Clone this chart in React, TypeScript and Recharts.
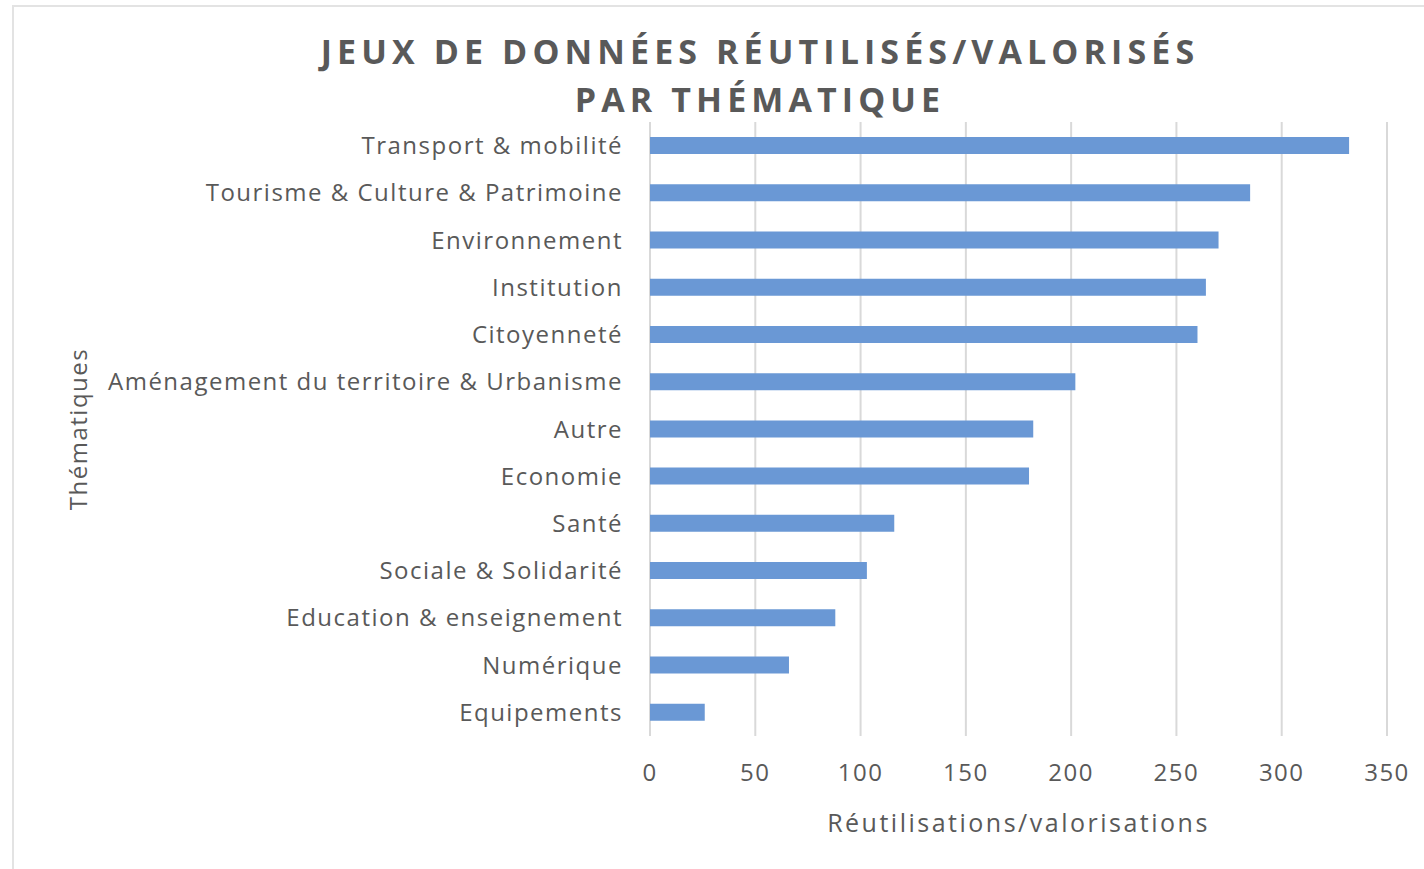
import React from 'react';
import { BarChart, Bar, XAxis, YAxis, CartesianGrid, Label } from 'recharts';

const categories = [
  'Transport & mobilité',
  'Tourisme & Culture & Patrimoine',
  'Environnement',
  'Institution',
  'Citoyenneté',
  'Aménagement du territoire & Urbanisme',
  'Autre',
  'Economie',
  'Santé',
  'Sociale & Solidarité',
  'Education & enseignement',
  'Numérique',
  'Equipements',
];
const values = [332, 285, 270, 264, 260, 202, 182, 180, 116, 103, 88, 66, 26];
const xTicks = [0, 50, 100, 150, 200, 250, 300, 350];
const titleLines = ['JEUX DE DONNÉES RÉUTILISÉS/VALORISÉS', 'PAR THÉMATIQUE'];

const data = categories.map((c, i) => ({ name: c, value: values[i] }));

const TEXT = '#595959';
const FONT = '"Open Sans", sans-serif';

export default function App() {
  return (
    <div style={{ position: 'absolute', left: 0, top: 0, width: 1424, height: 869, background: '#fff', overflow: 'hidden' }}>
      <div style={{ position: 'absolute', left: 12, top: 5, width: 1420, height: 870, border: '2px solid #e3e3e3', boxSizing: 'border-box' }} />
      <div style={{ position: 'absolute', left: 0, top: 27, width: 1520, textAlign: 'center', fontFamily: FONT, fontWeight: 700, fontSize: 34, letterSpacing: 5.1, color: TEXT, lineHeight: '48px' }}>
        {titleLines.map((t) => (<div key={t}>{t}</div>))}
      </div>
      <div style={{ position: 'absolute', left: 0, top: 0 }}>
        <BarChart
          width={1424}
          height={869}
          data={data}
          layout="vertical"
          margin={{ top: 122, right: 37, bottom: 33, left: 80 }}
          barSize={17}
        >
          <CartesianGrid horizontal={false} stroke="#d9d9d9" strokeWidth={2} />
          <XAxis
            type="number"
            domain={[0, 350]}
            ticks={xTicks}
            axisLine={false}
            tickLine={false}
            tickMargin={22}
            tick={{ fill: TEXT, fontSize: 24, fontFamily: FONT, letterSpacing: 1.5 }}
            height={100}
          >
            <Label value="Réutilisations/valorisations" position="insideBottom" offset={4} fill={TEXT} fontSize={25} fontFamily={FONT} letterSpacing={2.5} />
          </XAxis>
          <YAxis
            type="category"
            dataKey="name"
            width={570}
            axisLine={false}
            tickLine={false}
            tickMargin={21}
            interval={0}
            tick={{ fill: TEXT, fontSize: 24, fontFamily: FONT, letterSpacing: 1.5 }}
          >
            <Label value="Thématiques" angle={-90} position="insideLeft" offset={-2} fill={TEXT} fontSize={24} fontFamily={FONT} letterSpacing={1.5} style={{ textAnchor: 'middle' }} />
          </YAxis>
          <Bar dataKey="value" fill="#6a98d5" isAnimationActive={false} />
        </BarChart>
      </div>
    </div>
  );
}
